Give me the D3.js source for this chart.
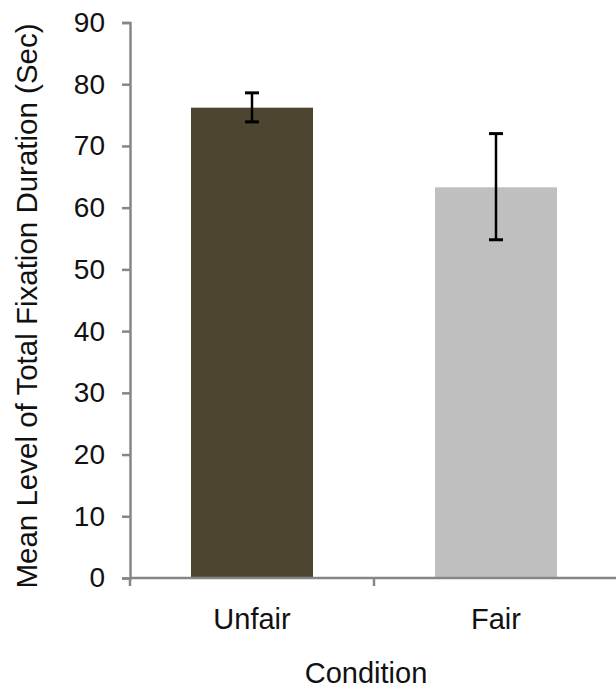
<!DOCTYPE html>
<html>
<head>
<meta charset="utf-8">
<script src="https://cdn.jsdelivr.net/npm/d3@7"></script>
<style>
  html, body { margin: 0; padding: 0; background: #fff; }
  svg { display: block; }
  text { font-family: "Liberation Sans", Arial, sans-serif; fill: #111; }
</style>
</head>
<body>
<svg id="chart" width="616" height="687"></svg>
<script>
// Data
const categories = ["Unfair", "Fair"];
const means = [76.2, 63.3];
const errLower = [73.9, 54.8];
const errUpper = [78.6, 72.0];
const barColors = ["#4d452f", "#bfbfbf"];
const yTicks = [0, 10, 20, 30, 40, 50, 60, 70, 80, 90];
const yTitle = "Mean Level of Total Fixation Duration (Sec)";
const xTitle = "Condition";

(function () {
const svg = d3.select("#chart");
const plotLeft = 130, plotRight = 618, plotTop = 22.5, plotBottom = 578;

const x = d3.scaleBand().domain(categories).range([plotLeft, plotRight])
  .paddingInner(0.5).paddingOuter(0.25);
const y = d3.scaleLinear().domain([0, 90]).range([plotBottom, plotTop]);

const axisColor = "#868686";

// Bars
svg.selectAll("rect.bar").data(categories).join("rect")
  .attr("class", "bar")
  .attr("x", d => x(d))
  .attr("width", x.bandwidth())
  .attr("y", (d, i) => y(means[i]))
  .attr("height", (d, i) => y(0) - y(means[i]))
  .attr("fill", (d, i) => barColors[i]);

// Y axis
const yAxis = d3.axisLeft(y).tickValues(yTicks).tickSize(8).tickPadding(17).tickSizeOuter(8);
const yg = svg.append("g").attr("transform", `translate(${plotLeft},0)`).call(yAxis);
yg.select(".domain").attr("stroke", axisColor).attr("stroke-width", 2.5);
yg.selectAll(".tick line").attr("stroke", axisColor).attr("stroke-width", 2.5);
yg.selectAll(".tick text").attr("font-size", 28).attr("fill", "#111")
  .attr("font-family", "Liberation Sans, Arial, sans-serif");

// X axis line and boundary ticks
const gap = x.step() - x.bandwidth();
const boundaries = categories.map(c => x(c) - gap / 2);
boundaries.push(x(categories[categories.length - 1]) + x.bandwidth() + gap / 2);
svg.append("line")
  .attr("x1", plotLeft).attr("x2", plotRight)
  .attr("y1", y(0)).attr("y2", y(0))
  .attr("stroke", axisColor).attr("stroke-width", 2.5);
svg.selectAll("line.xtick").data(boundaries).join("line")
  .attr("class", "xtick")
  .attr("x1", d => d).attr("x2", d => d)
  .attr("y1", y(0)).attr("y2", y(0) + 8)
  .attr("stroke", axisColor).attr("stroke-width", 2.5);

// X labels
svg.selectAll("text.xlab").data(categories).join("text")
  .attr("class", "xlab")
  .attr("x", d => x(d) + x.bandwidth() / 2)
  .attr("y", 629)
  .attr("text-anchor", "middle")
  .attr("font-size", 29)
  .text(d => d);

// Error bars
const capW = 14;
const eg = svg.append("g");
categories.forEach((c, i) => {
  const cx = x(c) + x.bandwidth() / 2;
  eg.append("line").attr("x1", cx).attr("x2", cx)
    .attr("y1", y(errUpper[i])).attr("y2", y(errLower[i]))
    .attr("stroke", "#000").attr("stroke-width", 2.5);
  [errUpper[i], errLower[i]].forEach(v => {
    eg.append("line").attr("x1", cx - capW / 2).attr("x2", cx + capW / 2)
      .attr("y1", y(v)).attr("y2", y(v))
      .attr("stroke", "#000").attr("stroke-width", 3);
  });
});

// Titles
svg.append("text")
  .attr("transform", `translate(37,${(22 + 590) / 2}) rotate(-90)`)
  .attr("text-anchor", "middle")
  .attr("font-size", 29.5)
  .text(yTitle);

svg.append("text")
  .attr("x", 366).attr("y", 683)
  .attr("text-anchor", "middle")
  .attr("font-size", 29)
  .text(xTitle);
})();
</script>
</body>
</html>
